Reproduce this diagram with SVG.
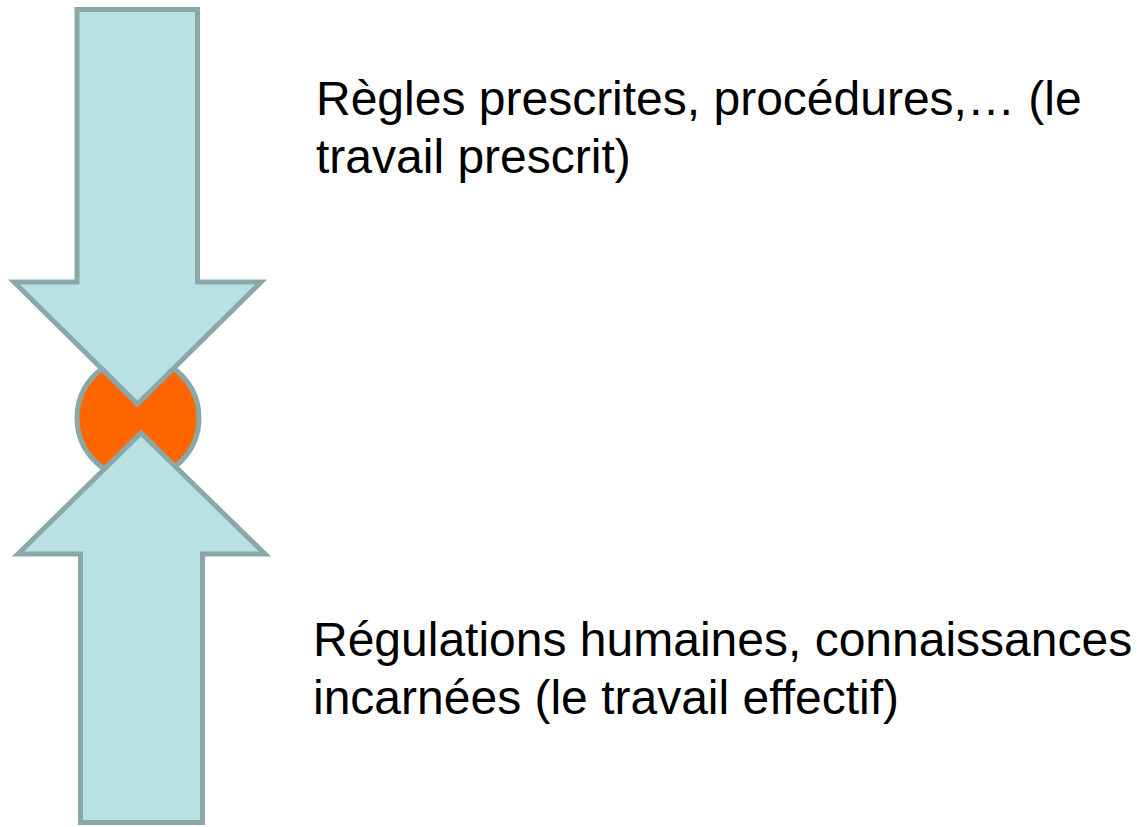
<svg xmlns="http://www.w3.org/2000/svg" width="1144" height="827" viewBox="0 0 1144 827">
<style>
.arrow{fill:#B9E0E3;stroke:#8BA8A9;stroke-width:5;stroke-linejoin:miter}
.txt{font-family:"Liberation Sans",Arial,sans-serif;font-size:48px;fill:#000}
</style>
<rect width="1144" height="827" fill="#fff"/>
<g id="core">
<circle cx="138" cy="418" r="61" fill="#FF6600" stroke="#8BA8A9" stroke-width="5"/>
</g>
<g id="connectors">
<polygon id="arrow-down" class="arrow" points="77,9.5 197.5,9.5 197.5,282 261,282 137.5,404 14,282 77,282"/>
<polygon id="arrow-up" class="arrow" points="141,433 265,554 202.5,554 202.5,822.5 80.5,822.5 80.5,554 18,554"/>
</g>
<g id="label-top">
<text class="txt" x="316" y="115">Règles prescrites, procédures,… (le</text>
<text class="txt" x="316" y="173">travail prescrit)</text>
</g>
<g id="label-bottom">
<text class="txt" x="313" y="656">Régulations humaines, connaissances</text>
<text class="txt" x="313" y="714">incarnées (le travail effectif)</text>
</g>
</svg>
